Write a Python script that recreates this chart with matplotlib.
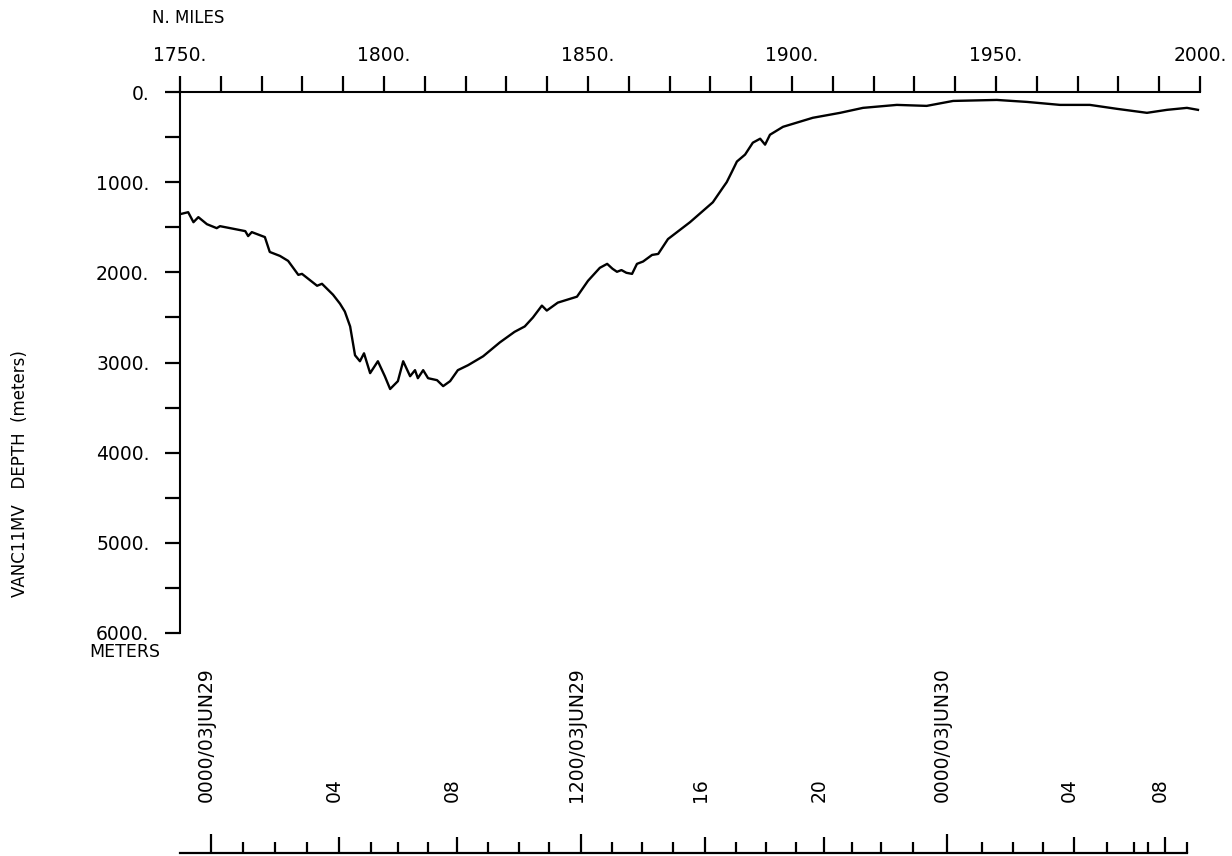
import numpy as np
import matplotlib
matplotlib.use("Agg")
import matplotlib.pyplot as plt
import matplotlib.transforms as mtransforms
from matplotlib.ticker import MultipleLocator, FixedLocator, FuncFormatter

plt.rcParams['font.family'] = ['DejaVu Sans']

# depth profile (n. miles, metres)
miles = [1750.0, 1752.0, 1753.3, 1754.5, 1756.6, 1759.0, 1759.8, 1762.3, 1766.0,
         1766.7, 1767.6, 1770.8, 1772.0, 1774.5, 1776.5, 1779.0, 1779.9, 1783.6,
         1784.8, 1787.5, 1789.2, 1790.4, 1791.7, 1792.9, 1794.1, 1795.1, 1796.6,
         1798.5, 1800.2, 1801.5, 1803.4, 1804.7, 1806.4, 1807.6, 1808.3, 1809.6,
         1810.8, 1813.0, 1814.5, 1816.2, 1818.1, 1820.6, 1824.3, 1828.4, 1832.0,
         1834.5, 1836.5, 1838.7, 1839.9, 1842.6, 1847.3, 1850.0, 1852.9, 1854.7,
         1856.0, 1857.1, 1858.2, 1859.4, 1860.8, 1862.0, 1863.5, 1865.7, 1867.2,
         1869.6, 1875.0, 1880.6, 1883.1, 1884.0, 1885.3, 1886.5, 1888.5, 1890.4,
         1892.2, 1893.4, 1894.6, 1897.8, 1905.1, 1911.8, 1917.4, 1925.7, 1933.0,
         1939.5, 1950.2, 1957.6, 1965.7, 1973.0, 1979.7, 1987.0, 1991.9, 1996.8,
         1999.5]
depth = [1355, 1333, 1444, 1388, 1466, 1510, 1488, 1510, 1543,
         1598, 1554, 1609, 1774, 1818, 1873, 2028, 2017, 2149,
         2127, 2248, 2347, 2435, 2600, 2920, 2986, 2898, 3118,
         2986, 3152, 3294, 3207, 2986, 3152, 3085, 3174, 3085,
         3174, 3196, 3262, 3207, 3085, 3030, 2931, 2777, 2660,
         2600, 2501, 2369, 2424, 2336, 2270, 2094, 1950, 1906,
         1960, 1994, 1975, 2005, 2017, 1906, 1880, 1807, 1796,
         1631, 1444, 1223, 1058, 1000, 882, 771, 694, 562,
         518, 584, 474, 386, 286, 231, 176, 143, 154,
         99, 88, 110, 143, 143, 187, 231, 198, 176,
         198]

# time axis: hour since 0000/03JUN29 -> n. miles along track
hours = list(range(34))
hour_miles = [1757.6, 1765.4, 1773.3, 1781.1, 1789.0, 1796.8, 1803.4, 1810.8,
              1817.9, 1825.5, 1833.1, 1840.4, 1848.3, 1855.9, 1863.2, 1870.8,
              1878.7, 1886.3, 1893.6, 1901.0, 1907.8, 1914.7, 1921.8, 1929.7,
              1938.0, 1946.6, 1954.2, 1961.5, 1969.1, 1977.2, 1983.8, 1987.3,
              1991.4, 1996.8]
label_hours = [0, 4, 8, 12, 16, 20, 24, 28, 32]
time_labels = ["0000/03JUN29", "04", "08", "1200/03JUN29", "16", "20",
               "0000/03JUN30", "04", "08"]
big_hours = [0, 12, 24]

W, H = 1232, 856
fig = plt.figure(figsize=(W / 100, H / 100), dpi=100)
x0, x1 = 180, 1200
y0, y1 = 92, 633
ax = fig.add_axes([x0 / W, 1 - y1 / H, (x1 - x0) / W, (y1 - y0) / H])
ax.plot(miles, depth, color="black", lw=1.7)
ax.set_xlim(1750, 2000)
ax.set_ylim(6000, 0)

for s in ["bottom", "right"]:
    ax.spines[s].set_visible(False)
for s in ["left", "top"]:
    ax.spines[s].set_linewidth(1.5)

ax.xaxis.set_ticks_position("top")
ax.xaxis.set_major_locator(MultipleLocator(50))
ax.xaxis.set_minor_locator(MultipleLocator(10))
ax.xaxis.set_major_formatter(FuncFormatter(lambda v, p: "%d." % v))
ax.yaxis.set_major_locator(MultipleLocator(1000))
ax.yaxis.set_minor_locator(MultipleLocator(500))
ax.yaxis.set_major_formatter(FuncFormatter(lambda v, p: "%d." % v))
ax.tick_params(axis="both", which="both", direction="out", length=11.5, width=1.6,
               labelsize=13.5)
ax.tick_params(axis="x", which="major", pad=8)
ax.tick_params(axis="y", which="major", pad=11)
ax.tick_params(axis="y", which="both", length=11)
ax.yaxis.get_major_ticks()[0].tick1line.set_visible(False)

fig.text(152 / W, 1 - 18 / H, "N. MILES", fontsize=12, va="center", ha="left")
fig.text(160 / W, 1 - 652 / H, "METERS", fontsize=12.5, va="center", ha="right")
fig.text(20 / W, 1 - 474 / H, "VANC11MV   DEPTH  (meters)", fontsize=12,
         rotation=90, va="center", ha="center")

# time axis along the bottom
tb = 853
ax2 = fig.add_axes([x0 / W, 1 - tb / H, (x1 - x0) / W, 48 / H])
ax2.set_xlim(1750, 2000)
ax2.set_yticks([])
for s in ["top", "right", "left"]:
    ax2.spines[s].set_visible(False)
ax2.spines["bottom"].set_linewidth(1.6)
ax2.spines["bottom"].set_bounds(1750, hour_miles[-1])
ax2.patch.set_visible(False)
ax2.xaxis.set_major_locator(FixedLocator([hour_miles[h] for h in label_hours]))
ax2.xaxis.set_minor_locator(FixedLocator([hour_miles[h] for h in hours if h not in label_hours]))
ax2.set_xticklabels(time_labels, rotation=90, ha="center")
ax2.tick_params(axis="x", which="both", direction="in", bottom=True, top=False,
                labelbottom=False, labeltop=True, width=1.6, labelsize=13.5, pad=2)
ax2.tick_params(axis="x", which="major", length=11.5)
ax2.tick_params(axis="x", which="minor", length=8)
shift = mtransforms.ScaledTranslation(-5 / 100, 0, fig.dpi_scale_trans)
for lab in ax2.get_xticklabels(which="major"):
    lab.set_transform(lab.get_transform() + shift)
for h, t in zip(label_hours, ax2.xaxis.get_major_ticks()):
    if h in big_hours:
        t.tick1line.set_markersize(14)

fig.savefig("out.png", dpi=100)
